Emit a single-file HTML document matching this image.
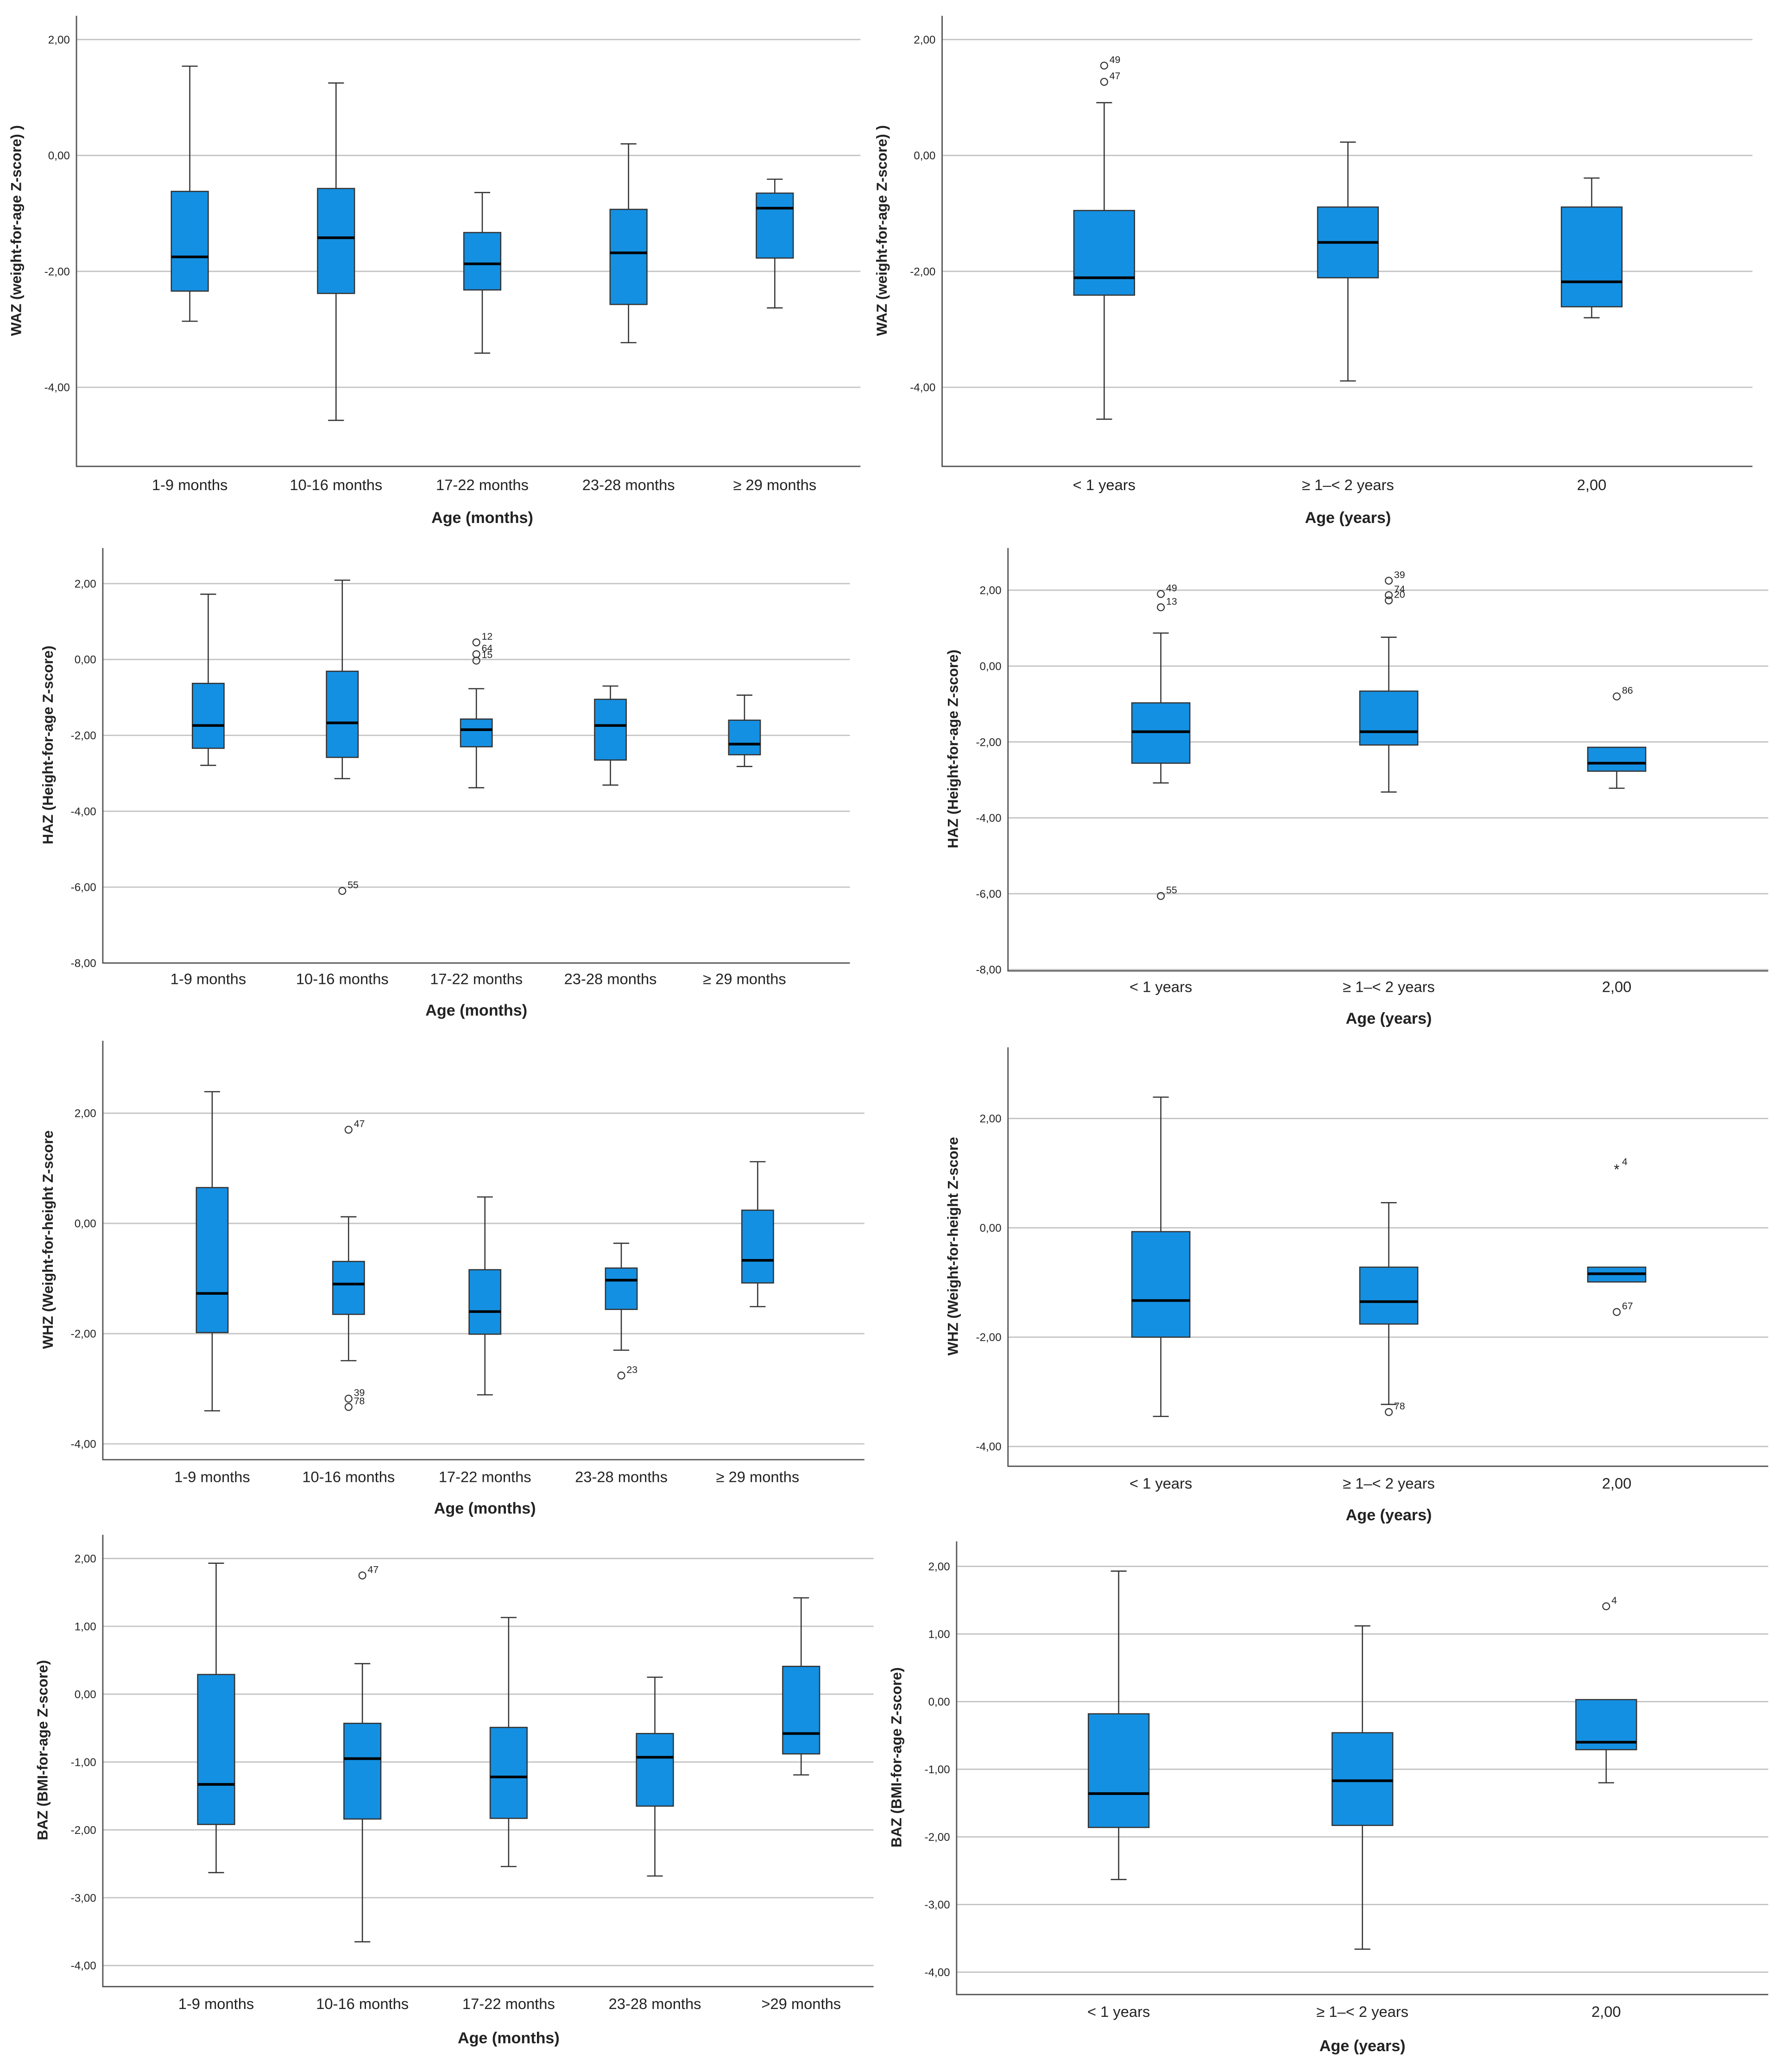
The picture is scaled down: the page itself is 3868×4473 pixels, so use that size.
<!DOCTYPE html>
<html><head><meta charset="utf-8"><style>
html,body{margin:0;padding:0;background:#fff}
svg{display:block}
text{font-family:"Liberation Sans",sans-serif;fill:#222}
</style></head><body>
<svg id="fig" width="3868" height="4473" viewBox="0 0 1360 1572.8" xmlns="http://www.w3.org/2000/svg"></svg>
<script>
// ---- data (value arrays per panel) ----
const catMonths = ["1-9 months","10-16 months","17-22 months","23-28 months","≥ 29 months"];
const catMonths2 = ["1-9 months","10-16 months","17-22 months","23-28 months",">29 months"];
const catYears = ["< 1 years","≥ 1–< 2 years","2,00"];

// each stat array: [lowWhisker, Q1, median, Q3, highWhisker]
const wazMonths = [[-2.86,-2.34,-1.75,-0.62,1.54],[-4.57,-2.38,-1.42,-0.57,1.25],[-3.41,-2.32,-1.87,-1.33,-0.64],[-3.23,-2.57,-1.68,-0.93,0.20],[-2.63,-1.77,-0.91,-0.65,-0.41]];
const wazYears = [[-4.55,-2.41,-2.11,-0.95,0.91],[-3.89,-2.11,-1.50,-0.89,0.23],[-2.80,-2.61,-2.18,-0.89,-0.39]];
const hazMonths = [[-2.79,-2.34,-1.74,-0.63,1.72],[-3.14,-2.58,-1.67,-0.31,2.09],[-3.38,-2.30,-1.85,-1.57,-0.77],[-3.31,-2.65,-1.74,-1.05,-0.70],[-2.82,-2.51,-2.23,-1.60,-0.94]];
const hazYears = [[-3.08,-2.56,-1.73,-0.97,0.87],[-3.32,-2.08,-1.73,-0.66,0.76],[-3.22,-2.77,-2.56,-2.14,-2.14]];
const whzMonths = [[-3.40,-1.98,-1.27,0.65,2.39],[-2.49,-1.65,-1.10,-0.69,0.12],[-3.11,-2.01,-1.60,-0.84,0.48],[-2.30,-1.56,-1.03,-0.81,-0.36],[-1.51,-1.08,-0.67,0.24,1.12]];
const whzYears = [[-3.45,-2.00,-1.33,-0.07,2.39],[-3.23,-1.76,-1.35,-0.72,0.46],[-0.99,-0.99,-0.84,-0.72,-0.72]];
const bazMonths = [[-2.63,-1.92,-1.33,0.29,1.93],[-3.65,-1.84,-0.95,-0.43,0.45],[-2.54,-1.83,-1.22,-0.49,1.13],[-2.68,-1.65,-0.93,-0.58,0.25],[-1.19,-0.88,-0.58,0.41,1.42]];
const bazYears = [[-2.63,-1.86,-1.36,-0.18,1.93],[-3.66,-1.83,-1.17,-0.46,1.12],[-1.20,-0.71,-0.60,0.03,0.03]];

// outliers: [categoryIndex, value, label, marker]
const wazYearsOut = [[0,1.55,"49","o"],[0,1.27,"47","o"]];
const hazMonthsOut = [[1,-6.10,"55","o"],[2,0.45,"12","o"],[2,0.14,"64","o"],[2,-0.03,"15","o"]];
const hazYearsOut = [[0,1.90,"49","o"],[0,1.55,"13","o"],[0,-6.06,"55","o"],[1,2.25,"39","o"],[1,1.87,"74","o"],[1,1.73,"20","o"],[2,-0.80,"86","o"]];
const whzMonthsOut = [[1,1.70,"47","o"],[1,-3.18,"39","o"],[1,-3.33,"78","o"],[3,-2.76,"23","o"]];
const whzYearsOut = [[1,-3.37,"78","o"],[2,1.10,"4","*"],[2,-1.54,"67","o"]];
const bazMonthsOut = [[1,1.75,"47","o"]];
const bazYearsOut = [[2,1.41,"4","o"]];

const ticks2 = [2,0,-2,-4];
const ticks8 = [2,0,-2,-4,-6,-8];
const ticks1 = [2,1,0,-1,-2,-3,-4];

// ---- layout ----
const panels = [
 {id:"waz-months",cats:catMonths,stats:wazMonths,out:[],ticks:ticks2,x0:58,x1:653,top:12,bot:354,vTop:2,yTop:30,vBot:-4,yBot:294,cx0:144,cx1:588,hw:14,ytitle:"WAZ (weight-for-age Z-score) )",ytx:16,xtitle:"Age (months)",tly:372,xty:397},
 {id:"waz-years",cats:catYears,stats:wazYears,out:wazYearsOut,ticks:ticks2,x0:715,x1:1330,top:12,bot:354,vTop:2,yTop:30,vBot:-4,yBot:294,cx0:838,cx1:1208,hw:23,ytitle:"WAZ (weight-for-age Z-score) )",ytx:673,xtitle:"Age (years)",tly:372,xty:397},
 {id:"haz-months",cats:catMonths,stats:hazMonths,out:hazMonthsOut,ticks:ticks8,x0:78,x1:645,top:416,bot:731,vTop:2,yTop:443,vBot:-8,yBot:731,cx0:158,cx1:565,hw:12,ytitle:"HAZ (Height-for-age Z-score)",ytx:40,xtitle:"Age (months)",tly:747,xty:771},
 {id:"haz-years",cats:catYears,stats:hazYears,out:hazYearsOut,ticks:ticks8,x0:765,x1:1342,top:416,bot:737,vTop:2,yTop:448,vBot:-8,yBot:736,cx0:881,cx1:1227,hw:22,ytitle:"HAZ (Height-for-age Z-score)",ytx:727,xtitle:"Age (years)",tly:753,xty:777},
 {id:"whz-months",cats:catMonths,stats:whzMonths,out:whzMonthsOut,ticks:ticks2,x0:78,x1:656,top:790,bot:1108,vTop:2,yTop:845,vBot:-4,yBot:1096,cx0:161,cx1:575,hw:12,ytitle:"WHZ (Weight-for-height Z-score",ytx:40,xtitle:"Age (months)",tly:1125,xty:1149},
 {id:"whz-years",cats:catYears,stats:whzYears,out:whzYearsOut,ticks:ticks2,x0:765,x1:1342,top:795,bot:1113,vTop:2,yTop:849,vBot:-4,yBot:1098,cx0:881,cx1:1227,hw:22,ytitle:"WHZ (Weight-for-height Z-score",ytx:727,xtitle:"Age (years)",tly:1130,xty:1154},
 {id:"baz-months",cats:catMonths2,stats:bazMonths,out:bazMonthsOut,ticks:ticks1,x0:78,x1:663,top:1165,bot:1508,vTop:2,yTop:1183,vBot:-4,yBot:1492,cx0:164,cx1:608,hw:14,ytitle:"BAZ (BMI-for-age Z-score)",ytx:36,xtitle:"Age (months)",tly:1525,xty:1551},
 {id:"baz-years",cats:catYears,stats:bazYears,out:bazYearsOut,ticks:ticks1,x0:726,x1:1342,top:1170,bot:1514,vTop:2,yTop:1189,vBot:-4,yBot:1497,cx0:849,cx1:1219,hw:23,ytitle:"BAZ (BMI-for-age Z-score)",ytx:684,xtitle:"Age (years)",tly:1531,xty:1557}
];
const NS="http://www.w3.org/2000/svg";
const svg=document.getElementById('fig');
function mk(tag,attrs,parent){const e=document.createElementNS(NS,tag);for(const k in attrs)e.setAttribute(k,attrs[k]);parent.appendChild(e);return e;}
function fmt(v){return v.toFixed(2).replace('.',',');}

panels.forEach(p=>{
  const g=mk('g',{},svg);
  
  
  const y=v=>p.yTop+(p.vTop-v)*(p.yBot-p.yTop)/(p.vTop-p.vBot);
  const n=p.cats.length;
  const x=i=>p.cx0+i*(p.cx1-p.cx0)/(n-1);
  p.ticks.forEach(t=>{
    const gl=mk('line',{x1:p.x0,x2:p.x1,y1:y(t),y2:y(t),stroke:'#c4c4c4','stroke-width':1},g);
    
    
    const tl=mk('text',{x:p.x0-5,y:y(t)+3,'text-anchor':'end','font-size':8.5},g);
    tl.textContent=fmt(t);
    
    
  });
  const ax=mk('path',{d:`M${p.x0},${p.top}V${p.bot}H${p.x1}`,fill:'none',stroke:'#555','stroke-width':1},g);
  
  
  p.stats.forEach((s,i)=>{
    const cx=x(i);
    const bg=mk('g',{},g);
    
    
    const cap=6;
    if(s[4]>s[3]){mk('line',{x1:cx,x2:cx,y1:y(s[4]),y2:y(s[3]),stroke:'#333','stroke-width':0.9},bg);
      mk('line',{x1:cx-cap,x2:cx+cap,y1:y(s[4]),y2:y(s[4]),stroke:'#333','stroke-width':0.9},bg);}
    if(s[0]<s[1]){mk('line',{x1:cx,x2:cx,y1:y(s[1]),y2:y(s[0]),stroke:'#333','stroke-width':0.9},bg);
      mk('line',{x1:cx-cap,x2:cx+cap,y1:y(s[0]),y2:y(s[0]),stroke:'#333','stroke-width':0.9},bg);}
    mk('rect',{x:cx-p.hw,y:y(s[3]),width:2*p.hw,height:Math.max(1,y(s[1])-y(s[3])),fill:'#1490e2',stroke:'#333','stroke-width':0.9},bg);
    mk('line',{x1:cx-p.hw,x2:cx+p.hw,y1:y(s[2]),y2:y(s[2]),stroke:'#000','stroke-width':2},bg);
    const tl=mk('text',{x:cx,y:p.tly,'text-anchor':'middle','font-size':11.5},g);
    tl.textContent=p.cats[i];
    
    
  });
  p.out.forEach(o=>{
    const cx=x(o[0]),cy=y(o[1]);
    const og=mk('g',{},g);
    
    
    if(o[3]==='*'){const t=mk('text',{x:cx,y:cy+5,'text-anchor':'middle','font-size':11},og);t.textContent='*';}
    else mk('circle',{cx:cx,cy:cy,r:2.6,fill:'none',stroke:'#333','stroke-width':0.8},og);
    const lt=mk('text',{x:cx+4,y:cy-2,'font-size':7.5},og);lt.textContent=o[2];
  });
  const yt=mk('text',{x:p.ytx,y:(p.top+p.bot)/2-8,'text-anchor':'middle','font-size':11,'font-weight':'bold',transform:`rotate(-90 ${p.ytx} ${(p.top+p.bot)/2-8})`},g);
  yt.textContent=p.ytitle;
  
  
  const xt=mk('text',{x:(p.cx0+p.cx1)/2,y:p.xty,'text-anchor':'middle','font-size':12,'font-weight':'bold'},g);
  xt.textContent=p.xtitle;
  
  
});
</script>
</body></html>
